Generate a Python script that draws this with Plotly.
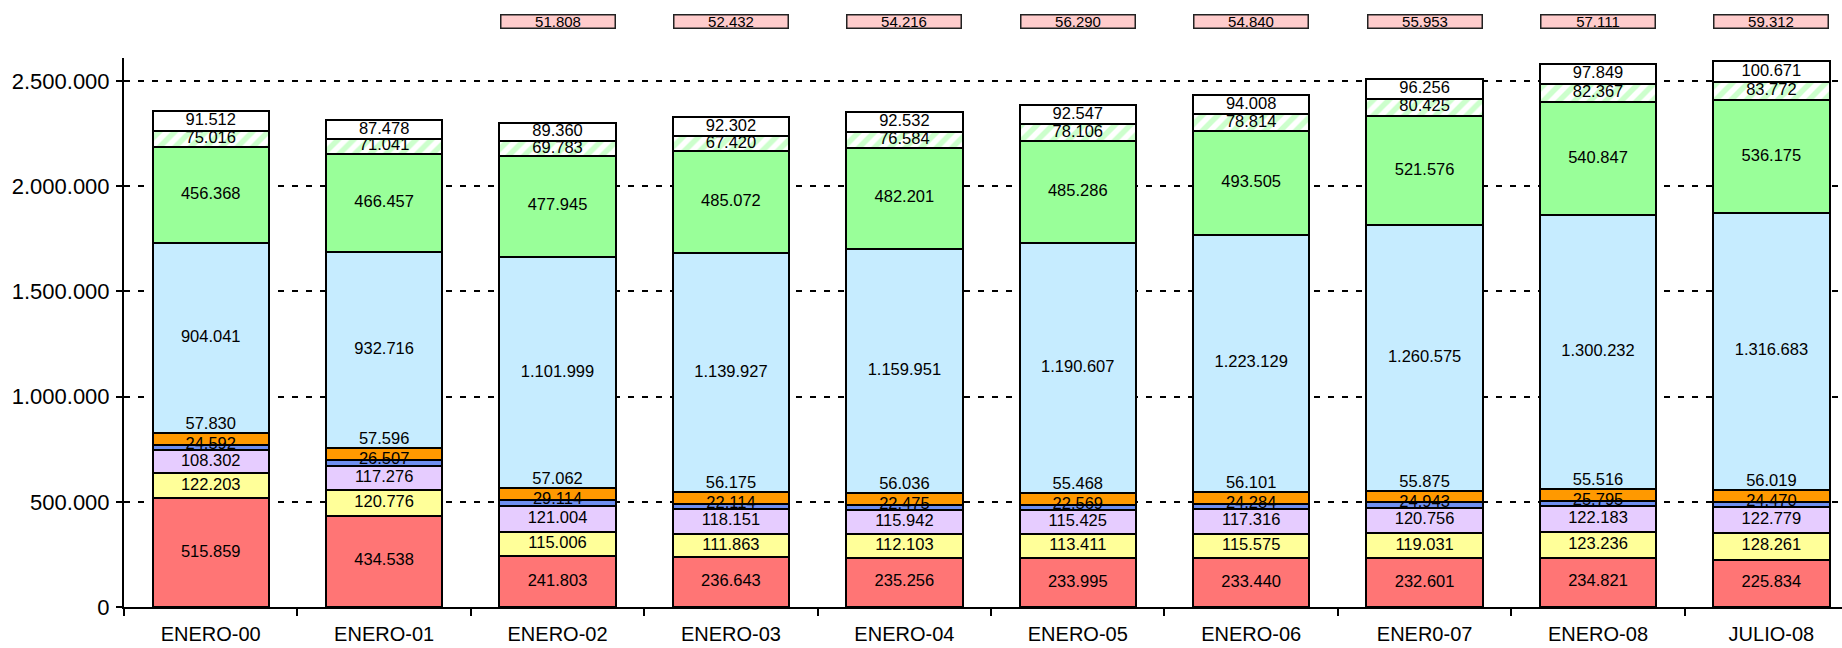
import plotly.graph_objects as go

categories = ["ENERO-00", "ENERO-01", "ENERO-02", "ENERO-03", "ENERO-04",
              "ENERO-05", "ENERO-06", "ENER0-07", "ENERO-08", "JULIO-08"]

red = [515859, 434538, 241803, 236643, 235256, 233995, 233440, 232601, 234821, 225834]
yellow = [122203, 120776, 115006, 111863, 112103, 113411, 115575, 119031, 123236, 128261]
lavender = [108302, 117276, 121004, 118151, 115942, 115425, 117316, 120756, 122183, 122779]
blue = [24592, 26507, 29114, 22114, 22475, 22569, 24284, 24943, 25795, 24470]
orange = [57830, 57596, 57062, 56175, 56036, 55468, 56101, 55875, 55516, 56019]
lightblue = [904041, 932716, 1101999, 1139927, 1159951, 1190607, 1223129, 1260575, 1300232, 1316683]
green = [456368, 466457, 477945, 485072, 482201, 485286, 493505, 521576, 540847, 536175]
hatched = [75016, 71041, 69783, 67420, 76584, 78106, 78814, 80425, 82367, 83772]
white = [91512, 87478, 89360, 92302, 92532, 92547, 94008, 96256, 97849, 100671]
pink = [None, None, 51808, 52432, 54216, 56290, 54840, 55953, 57111, 59312]

FONT = "Liberation Sans, Arial, sans-serif"


def fmt(v):
    return f"{v:,}".replace(",", ".")


series = [
    ("red", red, "#FF7575", None, "center"),
    ("yellow", yellow, "#FFFF99", None, "center"),
    ("lavender", lavender, "#E6CCFF", None, "center"),
    ("blue", blue, "#6F8FF0", None, "topmid"),
    ("orange", orange, "#FF9900", None, "topabove"),
    ("lightblue", lightblue, "#C6ECFF", None, "center"),
    ("green", green, "#99FF99", None, "center"),
    ("hatched", hatched, "#FFFFFF", "/", "center"),
    ("white", white, "#FFFFFF", None, "center"),
]

fig = go.Figure()
base = [0] * len(categories)
text_traces = []
for name, vals, color, pattern, lab in series:
    marker = dict(color=color, line=dict(color="black", width=2))
    if pattern:
        marker["pattern"] = dict(shape=pattern, fgcolor="#99FF99", bgcolor="#FFFFFF",
                                 size=11, solidity=0.5, fillmode="overlay")
    fig.add_trace(go.Bar(x=categories, y=vals, name=name, marker=marker,
                         showlegend=False, hoverinfo="skip"))
    if lab == "center":
        ys = [b + v / 2 for b, v in zip(base, vals)]
        pos = "middle center"
    elif lab == "topmid":
        ys = [b + v for b, v in zip(base, vals)]
        pos = "middle center"
    else:
        ys = [b + v for b, v in zip(base, vals)]
        pos = "top center"
    text_traces.append(go.Scatter(x=categories, y=ys, mode="text",
                                  text=[fmt(v) for v in vals], textposition=pos,
                                  textfont=dict(family=FONT, size=16.5, color="black"),
                                  showlegend=False, hoverinfo="skip", cliponaxis=False))
    base = [b + v for b, v in zip(base, vals)]

for t in text_traces:
    fig.add_trace(t)

for c, v in zip(categories, pink):
    if v is None:
        continue
    fig.add_annotation(x=c, xref="x", y=1.066, yref="paper", text=fmt(v),
                       showarrow=False, font=dict(family=FONT, size=15, color="black"),
                       bgcolor="#FFCCCC", bordercolor="#222222", borderwidth=1.5,
                       borderpad=0, width=113, height=12, yanchor="middle")

fig.update_layout(
    width=1842, height=648,
    margin=dict(l=124, r=0, t=58, b=41, autoexpand=False),
    barmode="stack", bargap=0.329,
    plot_bgcolor="white", paper_bgcolor="white",
    separators=",.",
    font=dict(family=FONT, color="black"),
    xaxis=dict(type="category", range=[-0.5, 9.407], tickson="boundaries",
               ticks="outside", ticklen=7, tickwidth=2, tickcolor="black",
               showline=True, linewidth=2, linecolor="black", showgrid=False,
               tickfont=dict(family=FONT, size=20, color="black"),
               ticklabelstandoff=8, automargin=False),
    yaxis=dict(range=[0, 2.61e6], dtick=500000, tickformat=",d",
               showgrid=True, gridcolor="black", gridwidth=2, griddash="6px,8px",
               zeroline=False, showline=True, linewidth=2, linecolor="black",
               ticks="outside", ticklen=6, tickwidth=2, tickcolor="black",
               tickfont=dict(family=FONT, size=22, color="black"),
               ticklabelstandoff=2, automargin=False),
)

fig.write_html("out.html", config={"displayModeBar": False},
               post_script="document.body.style.margin='0';document.body.style.overflow='hidden';")
